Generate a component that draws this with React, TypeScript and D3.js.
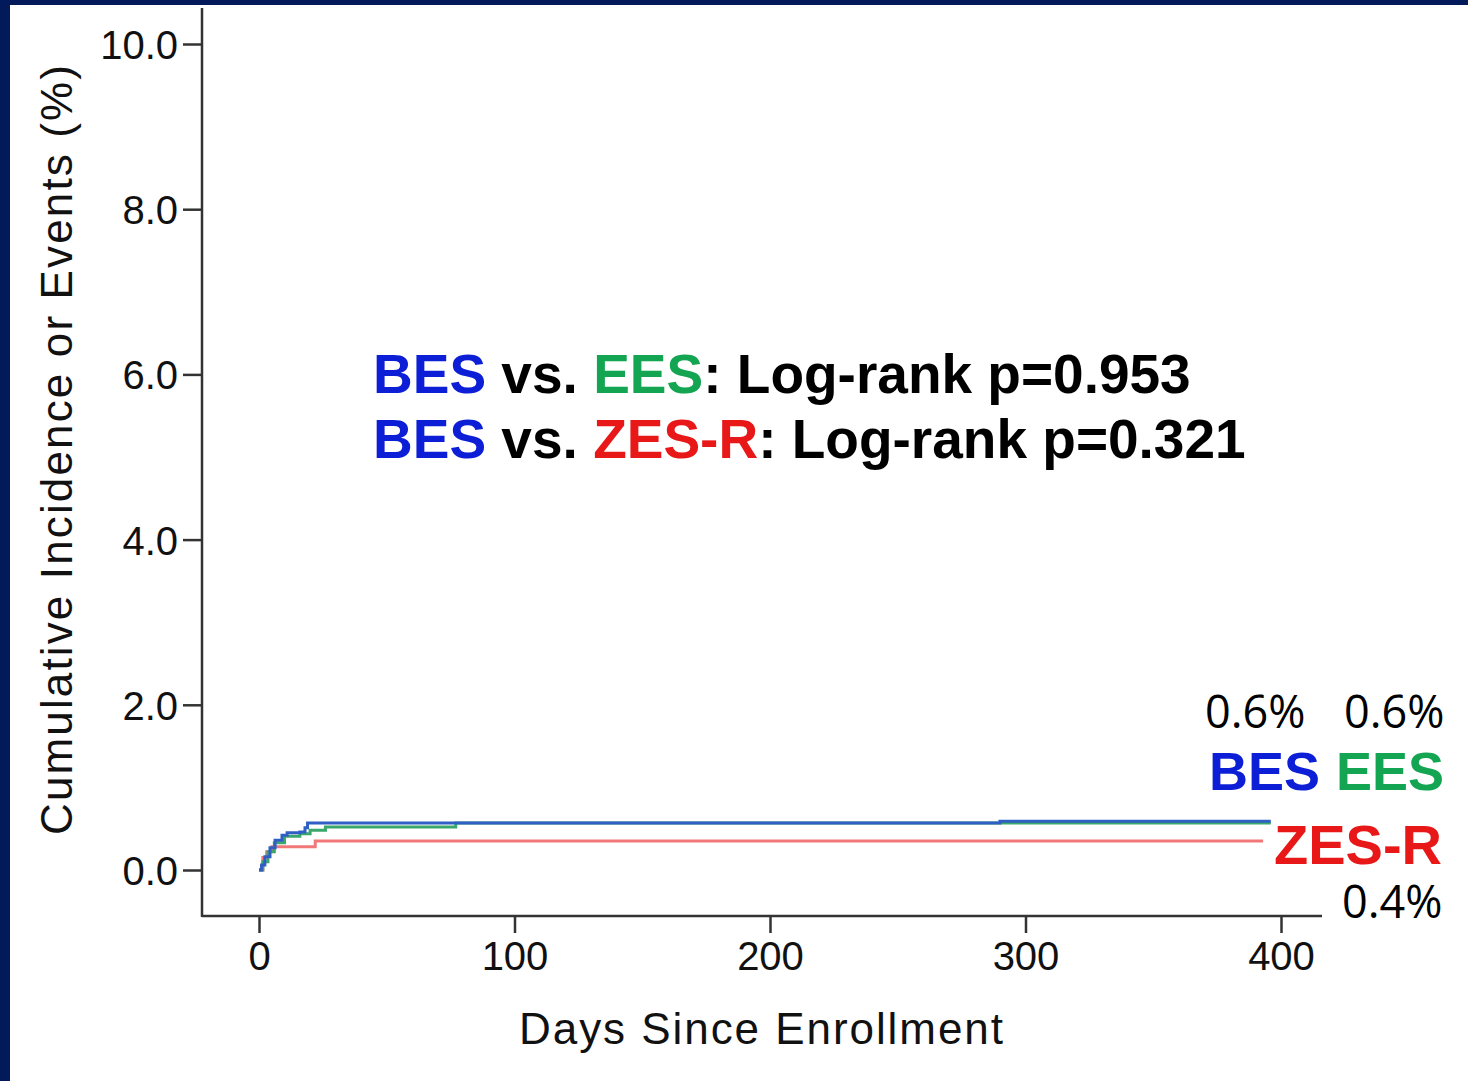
import React, { useEffect, useRef } from "react";
import * as d3 from "d3";

// step curves (day, cumulative %)
const besDays = [0, 1, 2.3, 4.3, 6.3, 9, 11, 16, 18, 19, 290, 396];
const besPct = [0, 0.06, 0.16, 0.27, 0.36, 0.42, 0.45, 0.46, 0.51, 0.57, 0.59, 0.59];
const eesDays = [0, 1.5, 3.5, 6, 10, 16, 20, 26, 77, 396];
const eesPct = [0, 0.1, 0.22, 0.33, 0.41, 0.44, 0.48, 0.52, 0.57, 0.57];
const zesDays = [0, 1.5, 3, 5, 22, 393];
const zesPct = [0, 0.15, 0.22, 0.28, 0.35, 0.35];

const xTicks = [0, 100, 200, 300, 400];
const yTicks = [0, 2, 4, 6, 8, 10];

const BLUE = "#0c1fd6";
const GREEN = "#14a552";
const RED = "#e81818";

export default function App() {
  const ref = useRef<SVGSVGElement>(null);

  useEffect(() => {
    document.body.style.margin = "0";
    const svg = d3.select(ref.current);
    svg.selectAll("*").remove();

    const W = 1468, H = 1081;
    svg.append("rect").attr("width", W).attr("height", H).attr("fill", "#021a5a");
    svg.append("rect").attr("x", 10).attr("y", 5).attr("width", W - 10).attr("height", H - 5).attr("fill", "#fff");

    const x = d3.scaleLinear().domain([0, 400]).range([259, 1281]);
    const y = d3.scaleLinear().domain([0, 10]).range([870, 44]);
    const axisX = 202, axisY = 916;
    const axisColor = "#333";

    // y axis
    const gy = svg.append("g").attr("transform", `translate(${axisX},0)`)
      .call(d3.axisLeft(y).tickValues(yTicks).tickSize(19).tickPadding(5).tickFormat(d3.format(".1f")));
    gy.select(".domain").remove();
    gy.selectAll(".tick line").attr("stroke", axisColor).attr("stroke-width", 2.5);
    gy.selectAll(".tick text").attr("font-family", "Liberation Sans, Arial, sans-serif")
      .attr("font-size", 40).attr("fill", "#111").attr("dy", "0.36em");

    // x axis
    const gx = svg.append("g").attr("transform", `translate(0,${axisY})`)
      .call(d3.axisBottom(x).tickValues(xTicks).tickSize(17).tickPadding(9).tickFormat(d3.format("d")));
    gx.select(".domain").remove();
    gx.selectAll(".tick line").attr("stroke", axisColor).attr("stroke-width", 2.5);
    gx.selectAll(".tick text").attr("font-family", "Liberation Sans, Arial, sans-serif")
      .attr("font-size", 40).attr("fill", "#111");

    svg.append("line").attr("x1", axisX).attr("x2", axisX).attr("y1", 8).attr("y2", axisY + 1)
      .attr("stroke", axisColor).attr("stroke-width", 2.5);
    svg.append("line").attr("x1", axisX).attr("x2", 1322).attr("y1", axisY).attr("y2", axisY)
      .attr("stroke", axisColor).attr("stroke-width", 2.5);

    // axis titles
    svg.append("text").attr("x", 761).attr("y", 1044).attr("text-anchor", "middle")
      .attr("font-family", "Liberation Sans, Arial, sans-serif").attr("font-size", 44).attr("fill", "#111")
      .attr("textLength", 484).attr("lengthAdjust", "spacing")
      .text("Days Since Enrollment");
    svg.append("text").attr("transform", "translate(72,450) rotate(-90)").attr("text-anchor", "middle")
      .attr("font-family", "Liberation Sans, Arial, sans-serif").attr("font-size", 44).attr("fill", "#111")
      .attr("textLength", 770).attr("lengthAdjust", "spacing")
      .text("Cumulative Incidence or Events (%)");

    // curves
    const line = d3.line<[number, number]>().x(d => x(d[0])).y(d => y(d[1])).curve(d3.curveStepAfter);
    const series = [
      { days: zesDays, pct: zesPct, color: "#f07878" },
      { days: eesDays, pct: eesPct, color: "#3aa86a" },
      { days: besDays, pct: besPct, color: "#2f5fc4" },
    ];
    series.forEach(s => {
      const pts = s.days.map((d, i) => [d, s.pct[i]] as [number, number]);
      svg.append("path").attr("d", line(pts)).attr("fill", "none")
        .attr("stroke", s.color).attr("stroke-width", 3);
    });

    // log-rank text
    const part = (sel: any, txt: string, color: string) =>
      sel.append("tspan").attr("fill", color).text(txt);
    const t1 = svg.append("text").attr("x", 373).attr("y", 393)
      .attr("font-family", "Liberation Sans, Arial, sans-serif").attr("font-weight", "bold").attr("font-size", 55);
    part(t1, "BES", BLUE); part(t1, " vs. ", "#000"); part(t1, "EES", GREEN); part(t1, ": Log-rank p=0.953", "#000");
    const t2 = svg.append("text").attr("x", 373).attr("y", 458)
      .attr("font-family", "Liberation Sans, Arial, sans-serif").attr("font-weight", "bold").attr("font-size", 55);
    part(t2, "BES", BLUE); part(t2, " vs. ", "#000"); part(t2, "ZES-R", RED); part(t2, ": Log-rank p=0.321", "#000");

    // end labels
    const pctLabel = (xx: number, yy: number, txt: string) =>
      svg.append("text").attr("x", xx).attr("y", yy).attr("font-family", "Open Sans, sans-serif")
        .attr("font-size", 45).attr("fill", "#000").text(txt);
    pctLabel(1205, 728, "0.6%");
    pctLabel(1344, 728, "0.6%");
    pctLabel(1342, 918, "0.4%");

    const boldLabel = (xx: number, yy: number, txt: string, color: string) =>
      svg.append("text").attr("x", xx).attr("y", yy).attr("font-family", "Liberation Sans, Arial, sans-serif")
        .attr("font-weight", "bold").attr("font-size", 54).attr("fill", color).text(txt);
    boldLabel(1209, 790, "BES", BLUE);
    boldLabel(1336, 790, "EES", GREEN);
    boldLabel(1274, 864, "ZES-R", RED).attr("font-size", 56);
  }, []);

  return <svg ref={ref} width={1468} height={1081} style={{ display: "block" }} />;
}
